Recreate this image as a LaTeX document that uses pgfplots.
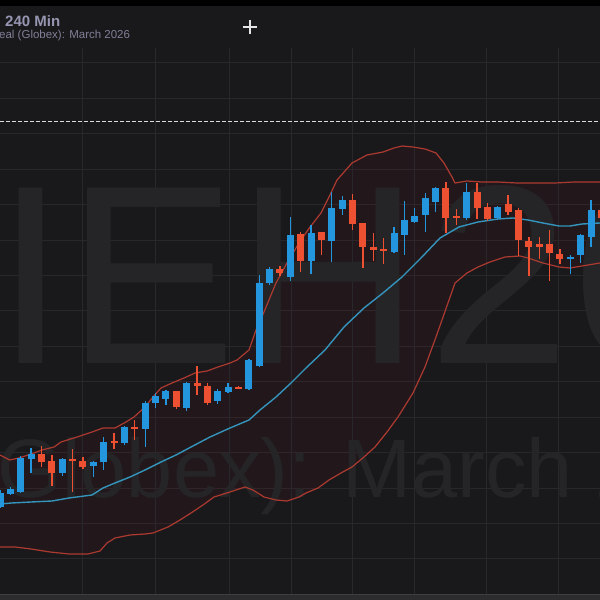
\documentclass[border=0pt]{standalone}
\usepackage{pgfplots}
\pgfplotsset{compat=1.18}
\usepackage{pgfplotstable}
\usepgfplotslibrary{fillbetween}
\usepackage{fontspec}
\setmainfont{Liberation Sans}

\definecolor{bg}{RGB}{25,25,28}
\definecolor{gridc}{RGB}{40,40,44}
\definecolor{upc}{RGB}{36,150,222}
\definecolor{dnc}{RGB}{238,80,50}
\definecolor{midc}{RGB}{52,148,188}
\definecolor{bandc}{RGB}{172,58,48}
\definecolor{bandfill}{RGB}{120,20,20}
\definecolor{wm}{RGB}{37,37,40}
\definecolor{hdr}{RGB}{150,150,178}
\definecolor{footc}{RGB}{44,44,47}
\definecolor{footl}{RGB}{62,62,66}

\pgfplotsset{
  candle/.style 2 args={only marks, mark=*, mark size=0pt,
    mark options={draw opacity=0, fill opacity=0},
    error bars/.cd, y dir=both, y explicit, error mark=none,
    error bar style={#1, line width=#2}},
}

% candles: i = bar number, prices in chart units
\pgfplotstableread{
i o h l c
0 93 110 92 107
1 106 113 105 111
2 108 144 107 142
3 141 152 127 146
6 127 141.5 124 141
9 134 138.5 123 138
10 138 163 130 158
12 157 174 155 173
14 171 199 153 197
15 197 207 192 204
16 201 210 195 209
18 192 218 189 217
21 199 211 196 209
22 208 217 207 213
24 211 241 210 240
25 234 325 233 317
26 317 333 315 331
28 323 383 319 365
30 339 375 326 367
32 359 408 338 392
33 391 404 385 400
38 348 373 347 367
39 365 399 345 380
40 378 392 377 384
41 385 407 368 402
42 398 413 388 412
45 382 417 380 408
48 382 393.5 380 393
55 341 345 326 343
56 345 366 337 365
57 363 400 353 390
}\candlesup

\pgfplotstableread{
i o h l c
4 146 154 133 138
5 139 145 114 127
7 141 151 108 139
8 139 143 131 133
11 159 167 151 157
13 173 180 160 171
17 209 209.5 191 193
19 217 234 205 214
20 214 217 195 197
23 213 213.5 210.5 211
27 331 334 324 327
29 366 368 328 339
31 368 368.5 345 360
34 400 406 370 376
35 377 377.5 332 353
36 353 367 339 350
37 351 362 336 349
43 412 418 367 382
44 384 391 375 382
46 408 417 381 392
47 393 397 379 381
49 396 405 385 388
50 390 392 344 360
51 359 363 324 353
52 356 363 341 353
53 356 370 319 347
54 346 351 336 341
58 390 393 380 382
}\candlesdn

\begin{document}
\begin{tikzpicture}
\begin{axis}[
  at={(0,0)}, anchor=south west,
  width=600bp, height=600bp, scale only axis,
  xmin=0, xmax=600, ymin=0, ymax=600,
  axis line style={draw=none},
  xtick=\empty,
  ytick={41,76.4,111.9,147.3,182.7,218.1,253.6,289,324.4,359.9,395.3,430.7,466.1,501.6,537},
  yticklabels={}, major tick length=0pt,
  ymajorgrids, grid style={gridc, line width=1bp},
  axis background/.style={fill=bg},
]
% vertical grid (session breaks)
\foreach \gx in {82,155,229,291,352,414,486,558}{
  \edef\tmp{\noexpand\draw[gridc, line width=1bp] (axis cs:\gx,6) -- (axis cs:\gx,552);}\tmp
}

% watermark
\node[anchor=base west, inner sep=0, text=wm, font=\fontsize{255bp}{255bp}\selectfont] at (axis cs:-4.5,237) {IEH\kern8bp 26};
\node[anchor=base west, inner sep=0, text=wm, font=\fontsize{83bp}{83bp}\selectfont] at (axis cs:-30,103) {(Globex): March 2026};

% dashed price line
\draw[white!72!gray, line width=1bp, dash pattern=on 4bp off 2bp] (axis cs:0,478) -- (axis cs:600,478);

% Bollinger bands
\addplot[name path=upper, bandc, line width=1.2bp, line join=round] coordinates {
(0,145) (9.6,140) (19,142) (31,146) (42,150) (54,153) (61,158) (77,163) (92,168) (103,172)
(115,172) (126,178) (134,183) (145,193) (153,203) (161,212) (172,217) (184,222) (195,227)
(207,229) (218,233) (230,237) (237,240) (249,250) (256,270) (264,288) (276,317) (287,337)
(299,357) (310,373) (321,387) (329,403) (337,420) (352,437) (367,445) (383,448) (394,452)
(402,454) (413,453) (425,451) (436,447) (444,437) (452,423) (455,417) (467,419) (482,418)
(498,418) (517,417) (536,417) (555,417) (574,418) (600,418)
};
\addplot[name path=lower, bandc, line width=1.2bp, line join=round] coordinates {
(0,53) (15,53) (31,51) (50,48) (69,46) (88,46) (100,49) (107,57) (115,62) (130,65) (145,66)
(153,67) (168,73) (180,80) (191,87) (203,95) (214,103) (230,108) (245,113) (253,110) (264,103)
(276,100) (287,99) (299,103) (306,107) (318,112) (329,120) (341,127) (352,133) (364,143)
(375,153) (387,168) (398,183) (413,207) (425,233) (436,263) (448,297) (455,317) (467,327)
(478,333) (490,338) (505,343) (520,344) (528,342) (543,337) (559,333) (570,332) (582,334)
(600,337)
};
\addplot[fill=bandfill, fill opacity=0.1, draw=none] fill between[of=upper and lower];
\addplot[midc, line width=1.4bp, line join=round] coordinates {
(0,96) (11.5,97) (31,98) (52,99) (69,102) (92,105) (103,112) (115,117) (130,123) (145,130)
(161,138) (176,145) (191,153) (210,163) (230,172) (249,180) (260,190) (276,203) (291,217)
(306,232) (325,250) (344,273) (364,292) (383,307) (402,323) (421,342) (440,362) (459,373)
(478,378) (498,381) (513,382) (528,380) (543,377) (559,374) (570,374) (582,376) (600,377)
};

% candles: wicks then bodies
\addplot[candle={upc}{1.3bp}]
  table[x expr=\thisrow{i}*10.37, y expr=(\thisrow{h}+\thisrow{l})/2, y error expr=(\thisrow{h}-\thisrow{l})/2] {\candlesup};
\addplot[candle={upc}{7bp}]
  table[x expr=\thisrow{i}*10.37, y expr=(\thisrow{o}+\thisrow{c})/2, y error expr=abs(\thisrow{c}-\thisrow{o})/2] {\candlesup};
\addplot[candle={dnc}{1.3bp}]
  table[x expr=\thisrow{i}*10.37, y expr=(\thisrow{h}+\thisrow{l})/2, y error expr=(\thisrow{h}-\thisrow{l})/2] {\candlesdn};
\addplot[candle={dnc}{7bp}]
  table[x expr=\thisrow{i}*10.37, y expr=(\thisrow{o}+\thisrow{c})/2, y error expr=abs(\thisrow{c}-\thisrow{o})/2] {\candlesdn};

% header and frame strips
\fill[black] (axis cs:0,594) rectangle (axis cs:600,600);
\fill[bg] (axis cs:0,552) rectangle (axis cs:600,594);
\draw[gridc, line width=1bp] (axis cs:0,537) -- (axis cs:600,537);
\fill[footc] (axis cs:0,0) rectangle (axis cs:600,6);
\draw[footl, line width=1bp] (axis cs:0,6) -- (axis cs:600,6);
\node[anchor=base west, inner sep=0, text=hdr, font=\bfseries\fontsize{15bp}{15bp}\selectfont] at (axis cs:5,573) {240 Min};
\node[anchor=base west, inner sep=0, text=hdr!85!black, font=\fontsize{11.5bp}{12bp}\selectfont] at (axis cs:-1,561.5) {eal (Globex): March 2026};
\draw[white!80!gray, line width=1.3bp] (axis cs:243,573) -- (axis cs:257,573) (axis cs:250,566) -- (axis cs:250,580);
\end{axis}
\pgfresetboundingbox
\path (0,0) rectangle (600bp,600bp);
\end{tikzpicture}
\end{document}
